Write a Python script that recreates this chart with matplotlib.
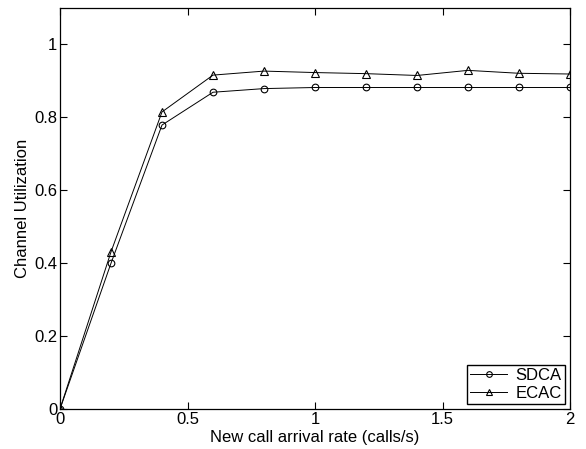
import matplotlib
matplotlib.use('Agg')
import matplotlib.pyplot as plt

plt.rcParams['font.family'] = ['Liberation Sans', 'DejaVu Sans']

rate = [0, 0.2, 0.4, 0.6, 0.8, 1.0, 1.2, 1.4, 1.6, 1.8, 2.0]
sdca = [0, 0.40, 0.779, 0.869, 0.879, 0.882, 0.882, 0.882, 0.882, 0.882, 0.882]
ecac = [0, 0.431, 0.815, 0.916, 0.927, 0.923, 0.920, 0.915, 0.929, 0.921, 0.919]

fig = plt.figure(figsize=(5.86, 4.49), dpi=100)
ax = fig.add_axes([0.1024, 0.0891, 0.8703, 0.893])

ax.plot(rate, sdca, color='black', lw=0.7, marker='o', ms=4.8, mfc='none', mec='black', mew=0.8, label='SDCA')
ax.plot(rate, ecac, color='black', lw=0.7, marker='^', ms=5.3, mfc='none', mec='black', mew=0.8, label='ECAC')

ax.set_xlim(0, 2)
ax.set_ylim(0, 1.1)
ax.set_xticks([0, 0.5, 1, 1.5, 2])
ax.set_xticklabels(['0', '0.5', '1', '1.5', '2'])
ax.set_yticks([0, 0.2, 0.4, 0.6, 0.8, 1])
ax.set_yticklabels(['0', '0.2', '0.4', '0.6', '0.8', '1'])
ax.tick_params(direction='in', top=True, right=True, labelsize=12, length=5, width=0.8, pad=2)
for s in ax.spines.values():
    s.set_linewidth(0.9)

ax.set_xlabel('New call arrival rate (calls/s)', fontsize=12, labelpad=2)
ax.set_ylabel('Channel Utilization', fontsize=12, labelpad=3)

leg = ax.legend(loc='lower right', fontsize=12, fancybox=False, edgecolor='black',
                framealpha=1, borderaxespad=0.3, handlelength=2.2, handletextpad=0.5,
                borderpad=0.2, labelspacing=0.15, markerscale=0.85)
leg.get_frame().set_linewidth(1.0)

fig.savefig('out.png', dpi=100)
